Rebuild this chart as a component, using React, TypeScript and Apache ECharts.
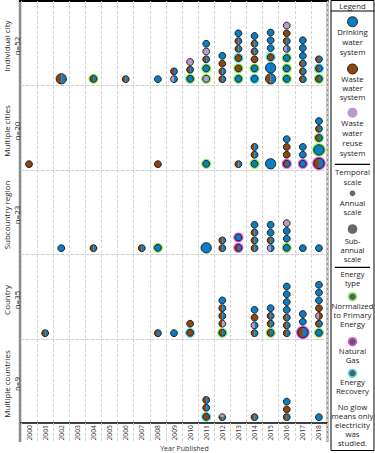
import React, { useEffect, useRef } from 'react';
import * as echarts from 'echarts';

const years = ['2000','2001','2002','2003','2004','2005','2006','2007','2008','2009','2010','2011','2012','2013','2014','2015','2016','2017','2018'];
const panelNames = ['Individual city', 'Multiple cities', 'Subcountry region', 'Country', 'Multiple countries'];
const panelCounts = [52, 20, 23, 35, 9];

// Dot codes, listed bottom to top per year.
// Capitals = water systems (left to right): D drinking, W waste, R reuse.
// '+' = sub-annual temporal scale (large dot). g / p / c = energy glow (primary / natural gas / recovery).
const individualCity: [string, string[]][] = [
  ['2002', ['WD+']],
  ['2004', ['WDg']],
  ['2006', ['WD']],
  ['2008', ['D']],
  ['2009', ['RD', 'WD']],
  ['2010', ['Dg', 'WD', 'R']],
  ['2011', ['Rg', 'Dg', 'WD', 'R', 'D']],
  ['2012', ['WD', 'WD', 'W', 'D']],
  ['2013', ['Dg', 'Wg', 'Wc', 'WD', 'WD', 'D']],
  ['2014', ['Dc', 'Dg', 'W', 'WD', 'WD', 'D']],
  ['2015', ['WD+', 'D+', 'Wc', 'D', 'D', 'D']],
  ['2016', ['Dg', 'Dg', 'Dg', 'RD', 'WD', 'W', 'R']],
  ['2017', ['WD', 'WD', 'WD', 'D', 'D', 'D']],
  ['2018', ['WDg', 'WDc', 'WD']],
];
const multipleCities: [string, string[]][] = [
  ['2000', ['W']],
  ['2008', ['W']],
  ['2011', ['Dg']],
  ['2013', ['WD']],
  ['2014', ['Dg', 'WD', 'WD']],
  ['2015', ['D+']],
  ['2016', ['WDp', 'W', 'W', 'D']],
  ['2017', ['Dp', 'D', 'D']],
  ['2018', ['WD+p', 'D+g', 'WDg', 'WD', 'D']],
];
const subcountryRegion: [string, string[]][] = [
  ['2002', ['D']],
  ['2004', ['WD']],
  ['2007', ['WD']],
  ['2008', ['Dg']],
  ['2011', ['D+']],
  ['2012', ['WD', 'WD']],
  ['2013', ['WDp', 'Dp']],
  ['2014', ['WD', 'WD', 'WD', 'D']],
  ['2015', ['RD', 'WD', 'D', 'D']],
  ['2016', ['Dg', 'D', 'D', 'R']],
  ['2017', ['D']],
  ['2018', ['D']],
];
const country: [string, string[]][] = [
  ['2001', ['WD']],
  ['2008', ['WD']],
  ['2009', ['D']],
  ['2010', ['Wc', 'W']],
  ['2012', ['WDg', 'WR', 'WD', 'WD', 'D']],
  ['2014', ['WD', 'RD', 'W', 'D']],
  ['2015', ['WDg', 'WD', 'WD', 'D']],
  ['2016', ['WD', 'WD', 'WD', 'D', 'D', 'D', 'D']],
  ['2017', ['WD+p', 'D', 'D']],
  ['2018', ['Dg', 'WD', 'RW', 'W', 'D', 'D', 'D']],
];
const multipleCountries: [string, string[]][] = [
  ['2011', ['Wc', 'WD', 'WD']],
  ['2012', ['WRD']],
  ['2014', ['WD']],
  ['2016', ['WD', 'W', 'D']],
  ['2018', ['D']],
];
const panels = [individualCity, multipleCities, subcountryRegion, country, multipleCountries];

const SYS: Record<string, string> = { D: '#0a7dc3', W: '#8a4511', R: '#b99bcb' };
const GLOW: Record<string, string> = { g: '#7cf04a', p: '#e23fe4', c: '#45e2f0' };
const FONT = 'Open Sans';

type Dot = { colors: string[]; big: boolean; glow: string | null };
const parse = (code: string): Dot => {
  const colors = code.replace(/[^A-Z]/g, '').split('').map((k) => SYS[k]);
  const g = code.match(/[gpc]/);
  return { colors, big: code.includes('+'), glow: g ? GLOW[g[0]] : null };
};
const halfH = (d: Dot) => (d.big ? 0.7 : 0.5) + (d.glow ? 0.17 : 0);

const GRID_TOPS = [1, 86, 170, 255, 339];
const GRID_H = 84;
const Y_MAX = 10.8;

function buildPanel(cols: [string, string[]][]) {
  const data: [string, number][] = [];
  const info: Dot[] = [];
  cols.forEach(([year, codes]) => {
    let pos = 0;
    let prev: Dot | null = null;
    codes.forEach((code) => {
      const d = parse(code);
      if (!prev) pos = 0.75 + (halfH(d) - 0.5) * 0.25;
      else pos += halfH(prev) + halfH(d);
      data.push([year, pos]);
      info.push(d);
      prev = d;
    });
  });
  return { data, info };
}

function dotGroup(cx: number, cy: number, r: number, colors: string[], glow: string | null, stroke: string | null) {
  const children: any[] = [];
  if (glow) {
    children.push({ type: 'circle', shape: { cx, cy, r: r + 1.6 }, style: { fill: glow, opacity: 0.9 } });
  }
  const n = colors.length;
  if (n === 1) {
    children.push({ type: 'circle', shape: { cx, cy, r }, style: { fill: colors[0] } });
  } else {
    const step = (Math.PI * 2) / n;
    colors.forEach((col, k) => {
      const s = Math.PI / 2 + k * step;
      children.push({ type: 'sector', shape: { cx, cy, r0: 0, r, startAngle: s, endAngle: s + step, clockwise: true }, style: { fill: col } });
    });
  }
  if (stroke) children.push({ type: 'circle', shape: { cx, cy, r }, style: { fill: 'none', stroke, lineWidth: 0.9 } });
  return children;
}

export default function App() {
  const ref = useRef<HTMLDivElement>(null);
  useEffect(() => {
    if (!ref.current) return;
    const chart = echarts.init(ref.current, null, { renderer: 'svg' });
    const built = panels.map(buildPanel);

    const grid = GRID_TOPS.map((top) => ({ left: 21, right: 48, top, height: GRID_H }));
    const xAxis = GRID_TOPS.map((_, i) => {
      const last = i === GRID_TOPS.length - 1;
      return {
        type: 'category',
        gridIndex: i,
        data: years,
        boundaryGap: true,
        axisLine: { show: true, lineStyle: last ? { color: '#000', width: 1.5 } : { color: '#cfcfcf', type: [3, 2], width: 1 } },
        axisTick: { show: last, length: 19, lineStyle: { color: '#cfcfcf', type: [3, 2] } },
        axisLabel: { show: last, rotate: 90, fontSize: 6.8, margin: 2, color: '#333', fontFamily: FONT },
        splitLine: { show: true, lineStyle: { color: '#d3d3d3', type: [3, 2], width: 1 } },
      };
    });
    const yAxis = GRID_TOPS.map((_, i) => ({
      type: 'value',
      gridIndex: i,
      min: 0,
      max: Y_MAX,
      axisLine: { show: false },
      axisTick: { show: false },
      axisLabel: { show: false },
      splitLine: { show: false },
    }));
    const series = built.map((b, i) => ({
      type: 'custom',
      xAxisIndex: i,
      yAxisIndex: i,
      clip: false,
      encode: { x: 0, y: 1 },
      data: b.data,
      renderItem: (params: any, api: any) => {
        const c = api.coord([api.value(0), api.value(1)]);
        const unit = api.size([0, 1])[1];
        const d = b.info[params.dataIndex];
        const r = unit * (d.big ? 0.66 : 0.44);
        return { type: 'group', children: dotGroup(c[0], c[1], r, d.colors, d.glow, '#141414') };
      },
    }));

    const lx = 352.5;
    const textStyle = (text: string, x: number, y: number, size: number, lh?: number) => ({
      text, x, y, align: 'center', verticalAlign: 'middle', textAlign: 'center', textVerticalAlign: 'middle',
      fontSize: size, lineHeight: lh, fontFamily: FONT, fill: '#222',
    });
    // multi-line block; y is the centre of the first line
    const block = (lines: string[], y0: number, lh: number, size = 7.8) => ({
      type: 'text',
      style: { ...textStyle(lines.join('\n'), lx, y0 - lh / 2, size, lh), verticalAlign: 'top', textVerticalAlign: 'top' },
    });
    const legendDot = (cy: number, r: number, fill: string, glow: string | null, stroke: string | null) => ({
      type: 'group',
      children: dotGroup(lx, cy, r, [fill], glow, stroke),
    });
    const yNames = GRID_TOPS.flatMap((top, i) => {
      const cy = top + GRID_H / 2 + 3;
      return [
        { type: 'text', x: 6, y: cy, rotation: Math.PI / 2, style: textStyle(panelNames[i], 0, 0, 8) },
        { type: 'text', x: 16.3, y: cy, rotation: Math.PI / 2, style: textStyle(`n=${panelCounts[i]}`, 0, 0, 8) },
      ];
    });

    const graphic: any[] = [
      { type: 'line', shape: { x1: 20, y1: 0, x2: 20, y2: 442 }, style: { stroke: '#8c8c8c', lineWidth: 2.5 } },
      { type: 'line', shape: { x1: 327.5, y1: 0, x2: 327.5, y2: 442 }, style: { stroke: '#8c8c8c', lineWidth: 2 } },
      { type: 'line', shape: { x1: 19, y1: 1, x2: 328.5, y2: 1 }, style: { stroke: '#000', lineWidth: 2 } },
      ...yNames,
      { type: 'text', style: { ...textStyle('Year Published', 184.5, 448, 7), fill: '#333' } },
      { type: 'rect', shape: { x: 331, y: 0.5, width: 43, height: 450 }, style: { fill: '#fff', stroke: '#000', lineWidth: 1 } },
      { type: 'text', style: textStyle('Legend', lx, 5.7, 7.8) },
      { type: 'line', shape: { x1: 331, y1: 11, x2: 374, y2: 11 }, style: { stroke: '#000', lineWidth: 1 } },
      legendDot(21.7, 5, SYS.D, null, '#141414'),
      block(['Drinking', 'water', 'system'], 32.3, 9.7),
      legendDot(69, 5, SYS.W, null, '#141414'),
      block(['Waste', 'water', 'system'], 79, 9.2),
      legendDot(112.7, 5, SYS.R, null, null),
      block(['Waste', 'water', 'reuse', 'system'], 123.3, 10),
      { type: 'line', shape: { x1: 335, y1: 164.3, x2: 370, y2: 164.3 }, style: { stroke: '#000', lineWidth: 1.2 } },
      block(['Temporal', 'scale'], 171.7, 10),
      legendDot(193.3, 2.8, '#676767', null, null),
      block(['Annual', 'scale'], 202.7, 9),
      legendDot(229, 4.8, '#676767', null, null),
      block(['Sub-', 'annual', 'scale'], 241.4, 8.8, 7.5),
      { type: 'line', shape: { x1: 335, y1: 267.3, x2: 370, y2: 267.3 }, style: { stroke: '#000', lineWidth: 1.2 } },
      block(['Energy', 'type'], 273.7, 8.8, 7.5),
      legendDot(296.7, 3.2, '#5c5c5c', GLOW.g, null),
      block(['Normalized', 'to Primary', 'Energy'], 306, 9),
      legendDot(341.7, 3.2, '#5c5c5c', GLOW.p, null),
      block(['Natural', 'Gas'], 351, 9),
      legendDot(373.3, 3.2, '#5c5c5c', GLOW.c, null),
      block(['Energy', 'Recovery'], 381.7, 9),
      block(['No glow', 'means only', 'electricity', 'was', 'studied.'], 406.7, 9.15),
    ];

    chart.setOption({
      animation: false,
      textStyle: { fontFamily: FONT },
      grid,
      xAxis,
      yAxis,
      series,
      graphic,
    });
    return () => chart.dispose();
  }, []);
  return <div ref={ref} style={{ position: 'fixed', left: 0, top: 0, width: 375, height: 453, background: '#fff' }} />;
}
